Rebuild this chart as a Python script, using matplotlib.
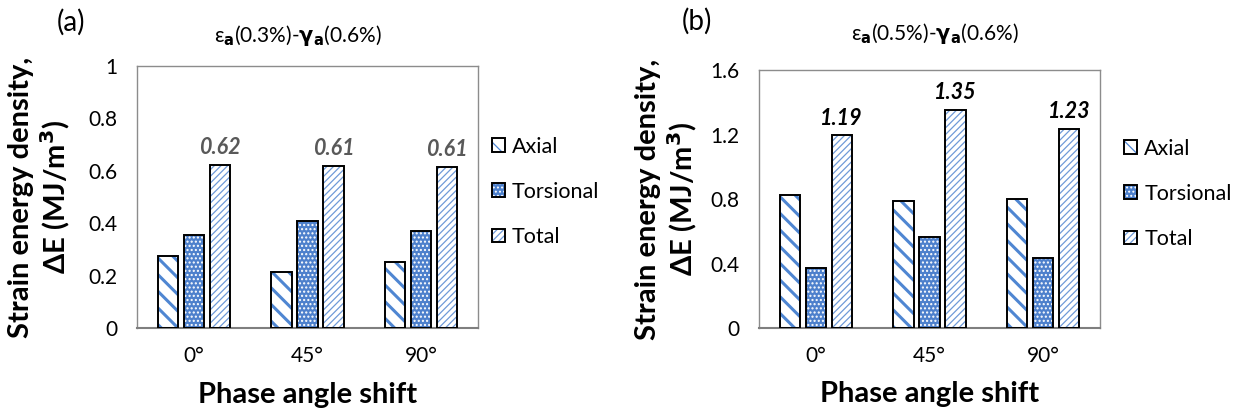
import matplotlib
matplotlib.use("Agg")
import matplotlib.pyplot as plt
import numpy as np
from matplotlib.patches import Patch
from matplotlib.legend_handler import HandlerTuple

plt.rcParams['font.family'] = ['Lato', 'DejaVu Sans']
plt.rcParams['mathtext.fontset'] = 'custom'
plt.rcParams['mathtext.rm'] = 'Noto Sans'
plt.rcParams['mathtext.bf'] = 'DejaVu Sans:bold'
plt.rcParams['mathtext.it'] = 'Noto Sans:italic'
plt.rcParams['mathtext.default'] = 'regular'

# ---- data ----
categories = ['0°', '45°', '90°']
series_names = ['Axial', 'Torsional', 'Total']

a_axial = [0.274, 0.213, 0.251]
a_torsional = [0.355, 0.408, 0.369]
a_total = [0.622, 0.617, 0.614]
a_labels = ['0.62', '0.61', '0.61']

b_axial = [0.824, 0.789, 0.803]
b_torsional = [0.375, 0.566, 0.437]
b_total = [1.194, 1.353, 1.236]
b_labels = ['1.19', '1.35', '1.23']

a_yticks = [0, 0.2, 0.4, 0.6, 0.8, 1]
a_yticklabels = ['0', '0.2', '0.4', '0.6', '0.8', '1']
b_yticks = [0, 0.4, 0.8, 1.2, 1.6]
b_yticklabels = ['0', '0.4', '0.8', '1.2', '1.6']

a_title = r'$ε_{\mathbf{a}}$(0.3%)-$\mathbf{γ_{a}}$(0.6%)'
b_title = r'$ε_{\mathbf{a}}$(0.5%)-$\mathbf{γ_{a}}$(0.6%)'
ylabel = 'Strain energy density,\nΔE (MJ/m$^{\\mathbf{3}}$)'
xlabel = 'Phase angle shift'

# ---- styles ----
styles = [
    dict(face='white', hcol='#4f86d2', hatch='\\\\', hlw=2.2),
    dict(face='#4d80cc', hcol='white', hatch='....', hlw=1.0),
    dict(face='white', hcol='#6f9ad8', hatch='/////', hlw=0.9),
]

W, H = 1233, 411
fig = plt.figure(figsize=(W / 100, H / 100), dpi=100)


def ax_rect(l, r, t, b):
    return [l / W, 1 - b / H, (r - l) / W, (b - t) / H]


def hatched_bar(ax, x, h, st, width):
    plt.rcParams['hatch.linewidth'] = st['hlw']
    bars = ax.bar(x, h, width, color=st['face'], edgecolor=st['hcol'],
                  hatch=st['hatch'], linewidth=0, zorder=2)
    ax.bar(x, h, width, fill=False, edgecolor='black', linewidth=1.4, zorder=3)
    return bars


def legend_handles():
    hs = []
    for st in styles:
        plt.rcParams['hatch.linewidth'] = st['hlw']
        p1 = Patch(facecolor=st['face'], edgecolor=st['hcol'], hatch=st['hatch'], linewidth=0)
        p2 = Patch(fill=False, edgecolor='black', linewidth=1.4)
        hs.append((p1, p2))
    return hs


def panel(rect, series, labels, ymax, yticks, yticklabels, title, title_xy,
          tag, tag_xy, label_color, ylab_x, leg_x):
    ax = fig.add_axes(rect)
    x = np.arange(len(categories))
    width = 0.178
    step = 0.228
    for i, (vals, st) in enumerate(zip(series, styles)):
        hatched_bar(ax, x + (i - 1) * step, vals, st, width)
    for xi, v, lab in zip(x, series[2], labels):
        ax.annotate(lab, (xi + step, v), xytext=(0, 5), textcoords='offset points',
                    ha='center', va='bottom', fontsize=15.5, fontweight='bold',
                    fontstyle='italic', color=label_color)
    ax.set_xlim(-0.5, 2.5)
    ax.set_ylim(0, ymax)
    ax.set_xticks(x)
    ax.set_xticklabels(categories, fontsize=15)
    ax.set_yticks(yticks)
    ax.set_yticklabels(yticklabels, fontsize=15)
    ax.tick_params(length=0)
    ax.tick_params(axis='y', pad=14)
    ax.tick_params(axis='x', pad=13)
    for s in ['left', 'right', 'top']:
        ax.spines[s].set_color('#8c8c8c')
        ax.spines[s].set_linewidth(1.0)
    ax.spines['bottom'].set_color('#7f7f7f')
    ax.spines['bottom'].set_linewidth(1.5)
    ax.set_ylabel(ylabel, fontsize=21, fontweight='bold', linespacing=1.2)
    ax.yaxis.set_label_coords(ylab_x, 0.5)
    ax.set_xlabel(xlabel, fontsize=21, fontweight='bold')
    ax.xaxis.set_label_coords(0.5, -0.205)
    fig.text(title_xy[0] / W, 1 - title_xy[1] / H, title, ha='center', va='center',
             fontsize=15)
    fig.text(tag_xy[0] / W, 1 - tag_xy[1] / H, tag, ha='center', va='center',
             fontsize=20)
    ax.legend(legend_handles(), series_names, handler_map={tuple: HandlerTuple(ndivide=1)},
              loc='center left', bbox_to_anchor=(leg_x, 0.52), frameon=False,
              fontsize=15.5, handlelength=0.6, handleheight=0.6,
              handletextpad=0.35, labelspacing=1.17, borderpad=0, borderaxespad=0)
    return ax


panel(ax_rect(137, 478, 66, 328), [a_axial, a_torsional, a_total], a_labels, 1.0,
      a_yticks, a_yticklabels, a_title, (298, 35), '(a)', (71, 22), '#595959', -0.19, 1.04)
panel(ax_rect(759, 1100, 70, 328), [b_axial, b_torsional, b_total], b_labels, 1.6,
      b_yticks, b_yticklabels, b_title, (935, 33), '(b)', (697, 21), 'black', -0.175, 1.07)

fig.savefig('out.png', dpi=100)
